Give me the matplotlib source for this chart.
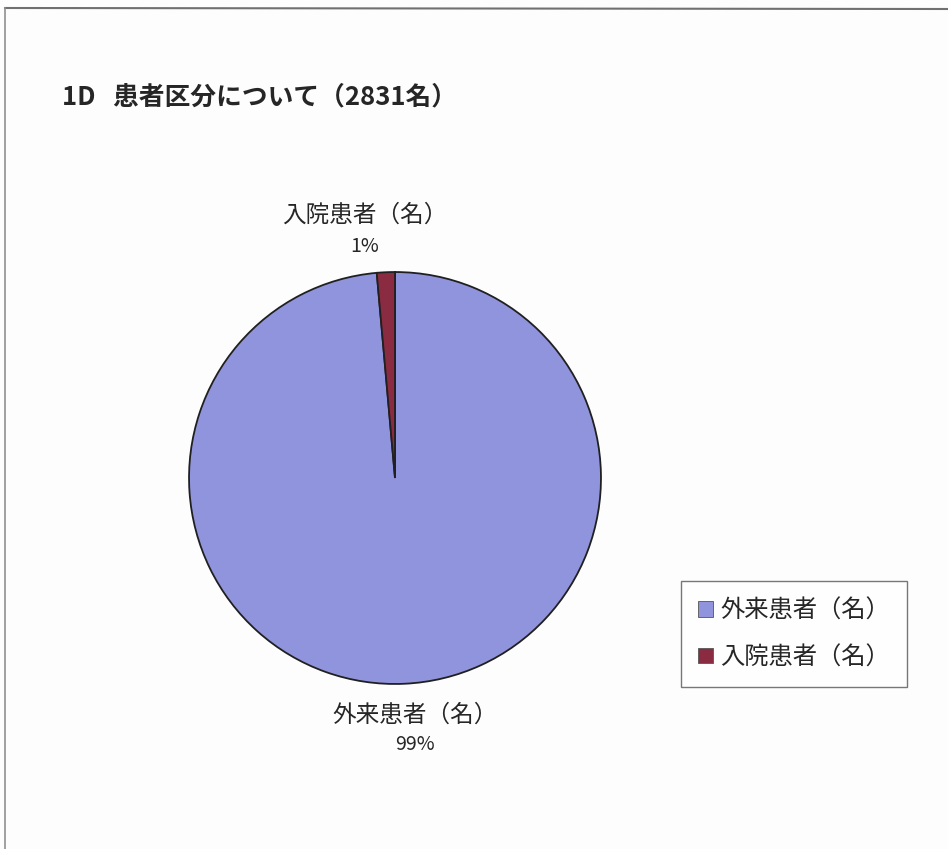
import matplotlib.pyplot as plt
from matplotlib.patches import Patch
from matplotlib.lines import Line2D

plt.rcParams['font.family'] = ['Noto Sans CJK JP', 'DejaVu Sans']

# patient breakdown, 2831 in total
categories = ['外来患者（名）', '入院患者（名）']
counts = [2791, 40]
colors = ['#9094dc', '#8b2b42']
title = '1D   患者区分について（2831名）'

W, H = 948, 849
fig = plt.figure(figsize=(W / 100, H / 100), dpi=100, facecolor='#fdfdfd')

# outer chart frame
fig.add_artist(Line2D([5 / W, 1], [1 - 8 / H, 1 - 9 / H], color='#707070', lw=1.5))
fig.add_artist(Line2D([5 / W, 5 / W], [1 - 8 / H, 0], color='#909090', lw=1.2))

fig.text(62 / W, 1 - 97 / H, title, fontsize=18.5, fontweight='bold',
         ha='left', va='center', color='#262626')

# pie centered at (395, 478) px, radius 207 px
cx, cy, r = 395, 478, 207
ax = fig.add_axes([(cx - r) / W, 1 - (cy + r) / H, 2 * r / W, 2 * r / H])
wedges, _ = ax.pie(counts, colors=colors, startangle=90, counterclock=False,
                   radius=1.0, wedgeprops=dict(edgecolor='#202020', linewidth=1.3))
ax.set_xlim(-1.005, 1.005)
ax.set_ylim(-1.005, 1.005)
ax.set_aspect('equal')
ax.axis('off')

total = sum(counts)
pcts = ['%d%%' % round(100.0 * c / total) for c in counts]

# data labels: name on one line, percent below
label_pos = [(415, 715, 745), (365, 215, 246)]
for name, pct, (lx, ly1, ly2) in zip(categories, pcts, label_pos):
    fig.text(lx / W, 1 - ly1 / H, name, fontsize=17, ha='center', va='center', color='#262626')
    fig.text(lx / W, 1 - ly2 / H, pct, fontsize=14, ha='center', va='center', color='#262626')

handles = [Patch(facecolor=c, edgecolor='#555555', linewidth=0.6) for c in colors]
leg = fig.legend(handles, categories, loc='center', bbox_to_anchor=(794 / W, 1 - 634 / H),
                 fontsize=17.5, frameon=True, fancybox=False, edgecolor='#555555',
                 handlelength=0.6, handleheight=0.6, handletextpad=0.3,
                 labelspacing=0.85, borderpad=0.7, borderaxespad=0)
leg.get_frame().set_linewidth(1.0)
for t in leg.get_texts():
    t.set_color('#262626')

fig.savefig('out.png', dpi=100, facecolor=fig.get_facecolor())
